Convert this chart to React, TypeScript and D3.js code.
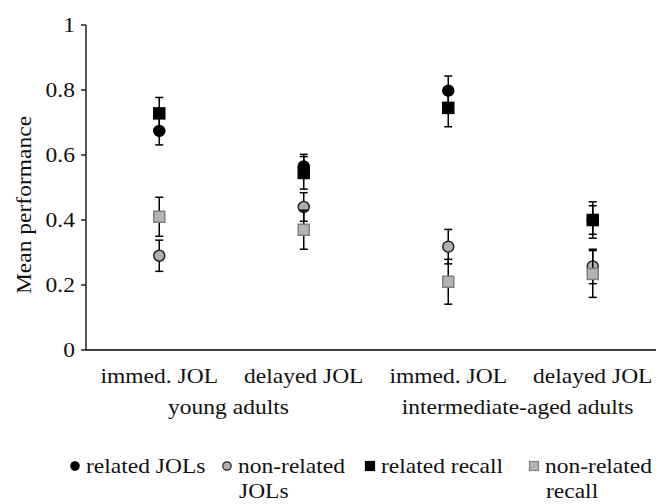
import {scaleBand, scaleLinear} from "d3";
import type {ReactNode} from "react";

const CONDITIONS = ["immed. JOL", "delayed JOL", "immed. JOL", "delayed JOL"];
const GROUPS = ["young adults", "intermediate-aged adults"];
const Y_TICKS = [0, 0.2, 0.4, 0.6, 0.8, 1];

// mean and error (half-width) per condition
const RELATED_JOLS = [0.674, 0.565, 0.798, 0.4];
const RELATED_JOLS_ERR = [0.043, 0.037, 0.045, 0.044];
const NONRELATED_JOLS = [0.29, 0.44, 0.318, 0.257];
const NONRELATED_JOLS_ERR = [0.048, 0.044, 0.053, 0.053];
const RELATED_RECALL = [0.728, 0.545, 0.745, 0.4];
const RELATED_RECALL_ERR = [0.049, 0.05, 0.058, 0.056];
const NONRELATED_RECALL = [0.41, 0.37, 0.21, 0.234];
const NONRELATED_RECALL_ERR = [0.06, 0.06, 0.069, 0.072];

type Series = {
  name: string[];
  values: number[];
  errors: number[];
  shape: "circle" | "square";
  fill: string;
  stroke: string;
};

const SERIES: Series[] = [
  {name: ["related JOLs"], values: RELATED_JOLS, errors: RELATED_JOLS_ERR, shape: "circle", fill: "#000", stroke: "#000"},
  {name: ["non-related", "JOLs"], values: NONRELATED_JOLS, errors: NONRELATED_JOLS_ERR, shape: "circle", fill: "#b0b0b0", stroke: "#222"},
  {name: ["related recall"], values: RELATED_RECALL, errors: RELATED_RECALL_ERR, shape: "square", fill: "#000", stroke: "#000"},
  {name: ["non-related", "recall"], values: NONRELATED_RECALL, errors: NONRELATED_RECALL_ERR, shape: "square", fill: "#b4b4b4", stroke: "#7f7f7f"}
];

const FONT = `"Liberation Serif"`;
const FONT_SIZE = 21;
const STRETCH = 1.12;

// text with the slightly wide glyphs of the original figure
function T({
  x,
  y,
  anchor = "start",
  rotate = 0,
  dy,
  children
}: {
  x: number;
  y: number;
  anchor?: "start" | "middle" | "end";
  rotate?: number;
  dy?: string;
  children: ReactNode;
}) {
  return (
    <text
      transform={`translate(${x},${y}) rotate(${rotate}) scale(${STRETCH},1)`}
      textAnchor={anchor}
      dy={dy}
      fontSize={FONT_SIZE}
      style={{fontFamily: FONT}}
      fill="#111"
    >
      {children}
    </text>
  );
}

export default function App() {
  const width = 670;
  const height = 504;
  const axisLeft = 86;
  const axisRight = 656;

  const y = scaleLinear().domain([0, 1]).range([350, 25]);
  const x = scaleBand<number>().domain([0, 1, 2, 3]).range([87, 665]);
  const cx = (i: number) => (x(i) ?? 0) + x.bandwidth() / 2;

  const legendX = [75, 227, 370, 534];

  return (
    <svg width={width} height={height} style={{position: "absolute", left: 0, top: 0}}>
      <rect width={width} height={height} fill="#fff" />

      {/* y axis */}
      <line x1={axisLeft} x2={axisLeft} y1={y(1)} y2={y(0)} stroke="#000" strokeWidth={1.3} />
      {Y_TICKS.map((t) => (
        <g key={t}>
          <line x1={axisLeft - 5} x2={axisLeft} y1={y(t)} y2={y(t)} stroke="#000" strokeWidth={1.3} />
          <T x={axisLeft - 11} y={y(t)} dy="0.34em" anchor="end">
            {t}
          </T>
        </g>
      ))}
      <T x={24} y={205} rotate={-90} anchor="middle" dy="0.33em">
        Mean performance
      </T>

      {/* x axis */}
      <line x1={axisLeft} x2={axisRight} y1={y(0)} y2={y(0)} stroke="#000" strokeWidth={1.3} />
      {CONDITIONS.map((c, i) => (
        <T key={i} x={cx(i)} y={383} anchor="middle">
          {c}
        </T>
      ))}
      {GROUPS.map((g, i) => (
        <T key={g} x={(cx(i * 2) + cx(i * 2 + 1)) / 2 - 3} y={414} anchor="middle">
          {g}
        </T>
      ))}

      {/* series */}
      {SERIES.map((s, si) => (
        <g key={si}>
          {s.values.map((v, i) => {
            const px = cx(i);
            const top = y(v + s.errors[i]);
            const bottom = y(v - s.errors[i]);
            return (
              <g key={i} stroke="#000" strokeWidth={1.5}>
                <line x1={px} x2={px} y1={top} y2={bottom} />
                <line x1={px - 4} x2={px + 4} y1={top} y2={top} />
                <line x1={px - 4} x2={px + 4} y1={bottom} y2={bottom} />
              </g>
            );
          })}
          {s.values.map((v, i) =>
            s.shape === "circle" ? (
              <circle key={`m${i}`} cx={cx(i)} cy={y(v)} r={5.5} fill={s.fill} stroke={s.stroke} strokeWidth={1.5} />
            ) : (
              <rect
                key={`m${i}`}
                x={cx(i) - 5.5}
                y={y(v) - 5.5}
                width={11}
                height={11}
                fill={s.fill}
                stroke={s.stroke}
                strokeWidth={1.5}
              />
            )
          )}
        </g>
      ))}

      {/* legend */}
      {SERIES.map((s, si) => (
        <g key={si}>
          {s.shape === "circle" ? (
            <circle cx={legendX[si]} cy={466} r={4.2} fill={s.fill} stroke={s.stroke} strokeWidth={1.2} />
          ) : (
            <rect
              x={legendX[si] - 4.5}
              y={461.5}
              width={9}
              height={9}
              fill={s.fill}
              stroke={s.stroke}
              strokeWidth={1.2}
            />
          )}
          {s.name.map((line, li) => (
            <T key={li} x={legendX[si] + (li === 0 ? 11 : 12)} y={473 + li * 25}>
              {line}
            </T>
          ))}
        </g>
      ))}
    </svg>
  );
}
